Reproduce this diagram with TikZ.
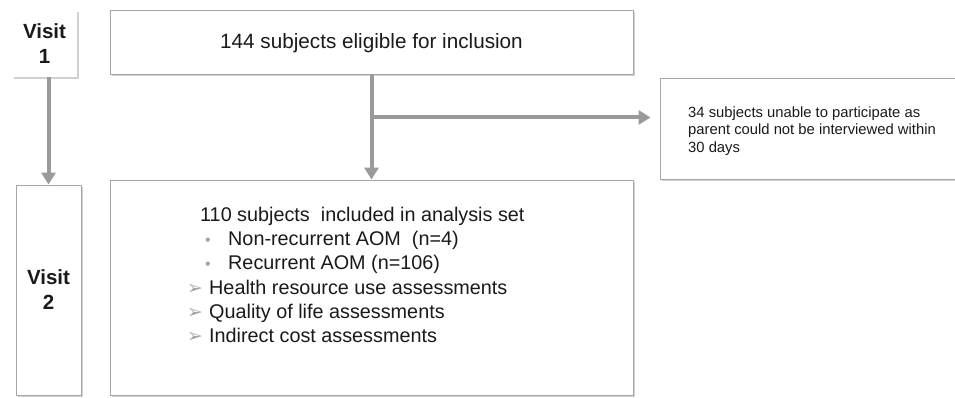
\documentclass[tikz,border=0pt]{standalone}
\usepackage{fontspec}
\setmainfont{Liberation Sans}
\newfontfamily\dejavu{DejaVu Sans}
\usetikzlibrary{arrows.meta,shadows,calc}
\definecolor{boxline}{HTML}{A6A6A6}
\definecolor{arrowgray}{HTML}{9A9A9A}
\definecolor{bulletgray}{HTML}{A6A6A6}
\definecolor{txt}{HTML}{1A1A1A}
\begin{document}
\begin{tikzpicture}[x=1pt,y=1pt,
  shade box/.style={fill=white, inner sep=0pt,
    drop shadow={shadow xshift=1.5pt, shadow yshift=-1.5pt, opacity=0.18, fill=black}},
  framebox/.style={shade box, draw=boxline, line width=0.9pt},
  visitlabel/.style={font=\bfseries\fontsize{20.5}{25}\selectfont, align=center, text=txt, inner sep=0pt},
  bigtext/.style={font=\fontsize{19.8}{24}\selectfont, text=txt, inner sep=0pt, anchor=base west},
  smalltext/.style={font=\fontsize{14.8}{17.8}\selectfont, text=txt, align=left, inner sep=0pt, anchor=west},
  dot/.style={font=\fontsize{16}{18}\selectfont, text=bulletgray, inner sep=0pt, anchor=base west},
  arrowmark/.style={font=\dejavu\fontsize{19}{20}\selectfont, text=bulletgray, inner sep=0pt, anchor=base west},
  flow/.style={draw=arrowgray, line width=4pt, -{Triangle[length=12pt,width=14pt]}}
]
\useasboundingbox (0,0) rectangle (955,-397);

% boxes
\node[shade box, minimum width=65pt, minimum height=67pt] (v1) at (44.5,-43.5) {};
\node[framebox, minimum width=65pt, minimum height=210pt] (v2) at (48.5,-290) {};
\node[framebox, minimum width=523pt, minimum height=64pt] (top) at (371.5,-42) {};
\node[framebox, minimum width=523pt, minimum height=215pt] (bot) at (371.5,-287.5) {};
\node[framebox, minimum width=310pt, minimum height=101pt] (rt) at (815,-128.5) {};

% visit labels
\node[visitlabel] (v1t) at (v1.center) {Visit\\1};
\node[visitlabel] (v2t) at (v2.center) {Visit\\2};

% top text
\node[font=\fontsize{20.7}{24}\selectfont, text=txt, inner sep=0pt] (toptext) at (371.5,-43) {144 subjects eligible for inclusion};

% right text
\node[smalltext] (rttext) at (688,-131) {34 subjects unable to participate as\\parent could not be interviewed within\\30 days};

% bottom text
\node[bigtext] (b0) at (200,-221) {110 subjects\ \ included in analysis set};
\node[dot] (d1) at (205,-245) {•};
\node[bigtext] (b1) at (228,-245) {Non-recurrent AOM\ \ (n=4)};
\node[dot] (d2) at (205,-269) {•};
\node[bigtext] (b2) at (228,-269) {Recurrent AOM (n=106)};
\node[arrowmark] (a3) at (187,-294) {➢};
\node[bigtext] (b3) at (209,-294) {Health resource use assessments};
\node[arrowmark] (a4) at (187,-318) {➢};
\node[bigtext] (b4) at (209,-318) {Quality of life assessments};
\node[arrowmark] (a5) at (187,-342) {➢};
\node[bigtext] (b5) at (209,-342) {Indirect cost assessments};

% connectors
\coordinate (v1out) at (v1.south -| v2.north);
\draw[flow] (v1out) -- (v2.north);
\draw[flow] (top.south) -- (bot.north);
\coordinate (br) at ($(top.south)+(0,-43)$);
\coordinate (brend) at ($(rt.west |- br)+(-9,0)$);
\draw[flow] (br) -- (brend);
\end{tikzpicture}
\end{document}
